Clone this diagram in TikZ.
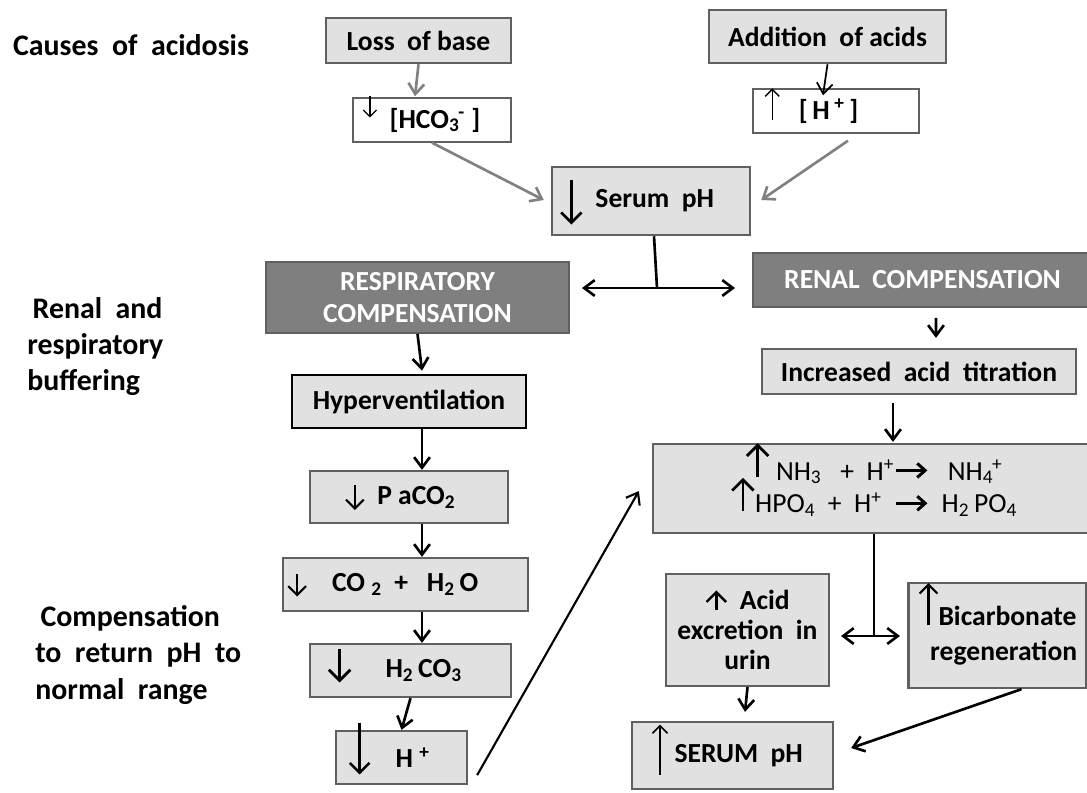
\documentclass[tikz,border=0pt]{standalone}
\usepackage{fontspec}
\setmainfont{Carlito}
\usetikzlibrary{arrows.meta,calc}

\definecolor{boxfill}{HTML}{E1E1E1}
\definecolor{boxline}{HTML}{606060}
\definecolor{darkfill}{HTML}{7F7F7F}
\definecolor{linkgray}{HTML}{808080}

% little arrows set inside the texts
\newcommand{\dnarr}[3][1pt]{\smash{\tikz[baseline=0pt]\draw[black,line width=#1,-{Straight Barb[scale=1.3]}] (0pt,#2) -- (0pt,#3);}}
\newcommand{\uparr}[3][1pt]{\smash{\tikz[baseline=0pt]\draw[black,line width=#1,-{Straight Barb[scale=1.3]}] (0pt,#3) -- (0pt,#2);}}
\newcommand{\rtarr}{\tikz[baseline=0pt]\draw[black,line width=1.7pt,-{Straight Barb[length=4.5pt,width=8pt]}] (0pt,5.5pt) -- (18pt,5.5pt);}
\newcommand{\subsup}[2]{\textsubscript{#1}\kern-0.05em\textsuperscript{#2}}

\begin{document}
\begin{tikzpicture}[x=0.02cm, y=-0.02cm,
  font=\fontsize{15.7}{18.5}\selectfont\bfseries,
  sz/.style 2 args={minimum width=#1*0.02cm, minimum height=#2*0.02cm, inner sep=0pt},
  cause/.style={draw=boxline, line width=1.4pt, fill=boxfill, align=center},
  level/.style={draw=boxline, line width=0.8pt, fill=white},
  comp/.style={draw=boxline, line width=1pt, fill=darkfill, text=white, align=center},
  stepbox/.style={draw=boxline, line width=1.3pt, fill=boxfill, align=center},
  sidenote/.style={align=left, inner sep=0pt, font=\fontsize{17}{20.5}\selectfont\bfseries},
  link/.style={line width=1.5pt, -{Straight Barb[length=6pt,width=9pt]}},
  glink/.style={link, draw=linkgray},
  both/.style={line width=1.5pt, {Straight Barb[length=6pt,width=9pt]}-{Straight Barb[length=6pt,width=9pt]}}]
\useasboundingbox (0,0) rectangle (1087,792);

% side notes
\node[sidenote] (causes) at (131,45) {Causes\ \ of\ \ acidosis};
\node[sidenote, anchor=west] (buffering) at (27,347) {\hspace*{3pt}Renal\ \ and\\respiratory\\buffering};
\node[sidenote, anchor=west] (normal) at (35,655) {\hspace*{3pt}Compensation\\to\ \ return\ \ pH\ \ to\\normal\ \ range};

% causes
\node[cause, sz={185}{45}] (loss) at (418.5,40.5) {Loss\ \ of base};
\node[cause, sz={237}{53}] (addacid) at (827.5,36.5) {Addition\ \ of acids};
\node[level, sz={158}{44}] (hco) at (432,120) {\dnarr[0.7pt]{18pt}{6pt}\ \ [HCO\subsup{3}{-}\ ]\hspace*{12pt}};
\node[level, sz={166}{44}] (hplus) at (836,111) {\uparr[0.8pt]{17.5pt}{-0.5pt}\ \ \ [\,H\,\textsuperscript{+}\,]\hspace*{28pt}};
\node[cause, sz={198}{68}] (serum) at (651,201) {\dnarr[1.5pt]{16pt}{-9.5pt}\ \ Serum\ \ pH\hspace*{16pt}};

% two compensations
\node[comp, sz={303}{71}] (resp) at (417.5,297.5) {RESPIRATORY\\COMPENSATION};
\node[comp, sz={339}{54}] (renal) at (922.5,280) {RENAL\ \ COMPENSATION};

% respiratory side
\node[stepbox, draw=black, line width=1.5pt, sz={234}{53}] (hyper) at (409,401.5) {Hyperventilation};
\node[stepbox, sz={198}{52}] (paco) at (409,497) {\dnarr[1.2pt]{11pt}{-3.4pt}\ \ P aCO\textsubscript{2}\hspace*{10pt}};
\node[stepbox, sz={245}{53}] (coh) at (405.5,584.5) {\dnarr[1.2pt]{10pt}{-2.8pt}\ \ \ \ CO \textsubscript{2}\ \ +\ \ \ H\textsubscript{2}\,O\hspace*{26pt}};
\node[stepbox, sz={201}{53}] (hco3) at (410.5,670.5) {\dnarr[1.6pt]{16.4pt}{-2.8pt}\quad\ H\textsubscript{2}\,CO\textsubscript{3}\hspace*{18pt}};
\node[stepbox, sz={131}{53}] (hion) at (401.5,757.5) {\dnarr[1.4pt]{25.5pt}{-4pt}\ \ \ \ H \textsuperscript{+}\hspace*{14pt}};

% renal side
\node[stepbox, sz={314}{45}] (titr) at (919,371.5) {Increased\ \ acid\ \ titration};
\node[stepbox, sz={442}{89}, font=\fontsize{15.7}{18.7}\selectfont] (buffer) at (874,488.5)
  {\uparr[1.6pt]{21pt}{1.5pt}\ NH\textsubscript{3}\ \ \ +\ \ H\textsuperscript{+}\rtarr\ \ \ NH\subsup{4}{+}\ \\
   \uparr[1.6pt]{20pt}{1pt}HPO\textsubscript{4}\ \ +\ \ H\textsuperscript{+}\ \ \rtarr\ \ H\textsubscript{2}\,PO\textsubscript{4}};
\node[stepbox, sz={163}{112}, font=\fontsize{15.7}{17}\selectfont\bfseries] (excr) at (747.5,630) {\uparr[1.4pt]{11pt}{0pt}\ \ Acid\\excretion\ \ in\\urin};
\node[stepbox, sz={178}{105}, font=\fontsize{15.7}{20}\selectfont\bfseries] (bicarb) at (997.5,635.5) {\uparr[1.2pt]{24pt}{0pt}Bicarbonate\\\ \ regeneration};
\node[stepbox, sz={201}{67}] (serumup) at (732.5,755.5) {\uparr[0.9pt]{21.5pt}{-7pt}\ SERUM\ \ pH\hspace*{6pt}};

% top part
\draw[glink] (loss.south) -- ($(hco.north)+(-17,-1)$);
\draw[glink] (hco.south) -- ($(serum.west)+(-7,-1)$);
\draw[link, line width=1pt] (addacid.south) -- ($(hplus.north)+(-13,7)$);
\draw[glink] ($(hplus.south)+(12,7)$) -- ($(serum.east)+(10,-1)$);

\coordinate (fork) at (657,288);
\coordinate (forkl) at (582,288);
\coordinate (forkr) at (735,288);
\draw[line width=1.5pt] ($(serum.south)+(3,0)$) -- (fork);
\draw[both] (forkl) -- (forkr);

% respiratory chain
\coordinate (resx) at (422,0);
\draw[link] (resp.south) -- ($(hyper.north)+(13,-3)$);
\draw[link] (hyper.south -| resx) -- (paco.north -| resx);
\draw[link] (paco.south -| resx) -- (coh.north -| resx);
\draw[link] (coh.south -| resx) -- (hco3.north -| resx);
\draw[link] (hco3.south) -- (hion.north);
\draw[link, line width=1.2pt] ($(hion.south east)+(9,-10)$) -- ($(buffer.west)+(-13,2.5)$);

% renal chain
\draw[link] ($(renal.south)+(13.5,10)$) -- ($(titr.north)+(17,-10)$);
\draw[link] ($(titr.south)+(-26,8)$) -- ($(buffer.north)+(19,-1)$);
\coordinate (fork2) at (874,636);
\coordinate (fork2l) at (841,636);
\coordinate (fork2r) at (900,636);
\draw[line width=1.5pt] (buffer.south) -- (fork2);
\draw[both] (fork2l) -- (fork2r);
\draw[link] (excr.south) -- ($(serumup.north)+(12.5,-9)$);
\draw[link] ($(bicarb.south)+(24,0)$) -- ($(serumup.east)+(17,-7.5)$);
\end{tikzpicture}
\end{document}
